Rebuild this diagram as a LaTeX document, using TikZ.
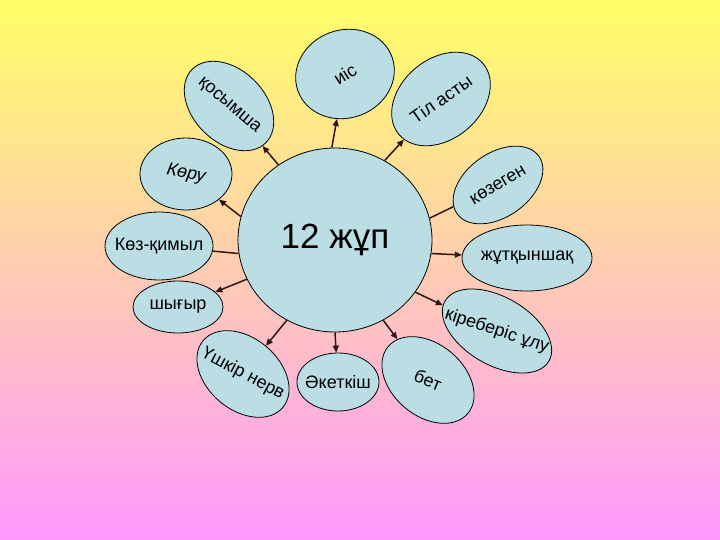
\documentclass[tikz,border=0pt]{standalone}
\usepackage{fontspec}
\setmainfont{Liberation Sans}
\usetikzlibrary{arrows.meta,shapes.geometric}
\definecolor{bgtop}{RGB}{255,255,102}
\definecolor{bgbottom}{RGB}{255,153,255}
\definecolor{leafblue}{RGB}{187,222,228}
\definecolor{stemdark}{RGB}{50,20,20}

\begin{document}
\begin{tikzpicture}[x=1pt, y=-1pt,
  core/.style={draw, line width=0.8pt, ellipse, fill=leafblue, minimum width=194pt, minimum height=184pt, font=\fontsize{35}{40}\selectfont},
  leaf/.style={draw, line width=0.8pt, ellipse, fill=leafblue, inner sep=0pt, font=\fontsize{18}{21}\selectfont},
  stem/.style={draw=stemdark, line width=1.5pt},
  arrowstem/.style={stem, -{Triangle[length=7pt,width=6pt]}}
]
\shade[top color=bgtop, bottom color=bgbottom] (0,0) rectangle (720,540);

\node[core] (core) at (335,240) {12 жұп};

\node[leaf, minimum width=104pt, minimum height=72pt, rotate=-45] (kosymsha) at (229,106) {\makebox[0pt]{\rotatebox[origin=c]{5}{қосымша}}};
\node[leaf, minimum width=100pt, minimum height=88pt, rotate=20] (iis) at (345,74) {\makebox[0pt]{\rotatebox[origin=c]{12}{иіс}}};
\node[leaf, minimum width=110pt, minimum height=80pt, rotate=40] (tilasty) at (441,99) {\makebox[0pt]{\rotatebox[origin=c]{-5}{Тіл асты}}};
\node[leaf, minimum width=92pt, minimum height=72pt] (koru) at (186,174) {\makebox[0pt]{\rotatebox[origin=c]{-10}{\itshape Көру}}};
\node[leaf, minimum width=108pt, minimum height=68pt] (kozkimyl) at (159,246) {\makebox[0pt]{Көз-қимыл}};
\node[leaf, minimum width=100pt, minimum height=64pt, rotate=35] (kozegen) at (498,185) {\makebox[0pt]{\rotatebox[origin=c]{-4}{көзеген}}};
\node[leaf, minimum width=130pt, minimum height=66pt] (zhutkynshak) at (527,258) {\makebox[0pt]{жұтқыншақ}};
\node[leaf, minimum width=90pt, minimum height=52pt] (shygyr) at (178,307) {\makebox[0pt]{шығыр}};
\node[leaf, minimum width=104pt, minimum height=72pt, rotate=-40] (ushkir) at (243,374) {\makebox[0pt]{\rotatebox[origin=c]{12}{Үшкір нерв}}};
\node[leaf, minimum width=82pt, minimum height=58pt] (aketkish) at (338,382) {\makebox[0pt]{Әкеткіш}};
\node[leaf, minimum width=104pt, minimum height=72pt, rotate=-40] (bet) at (428,380) {\makebox[0pt]{\rotatebox[origin=c]{18}{бет}}};
\node[leaf, minimum width=120pt, minimum height=68pt, rotate=-30] (kireberis) at (497,331) {\makebox[0pt]{\rotatebox[origin=c]{12}{кіреберіс ұлу}}};

\draw[arrowstem] (core.127) -- (kosymsha);
\draw[arrowstem] (core.92) -- (iis);
\draw[arrowstem] (core.58) -- (tilasty);
\draw[arrowstem] (core.166) -- (koru);
\draw[stem] (core.188) -- (kozkimyl);
\draw[stem] (core.13) -- (kozegen);
\draw[arrowstem] (core.352) -- (zhutkynshak);
\draw[arrowstem] (core.204) -- (shygyr);
\draw[arrowstem] (core.239) -- (ushkir);
\draw[arrowstem] (core.270) -- (aketkish);
\draw[arrowstem] (core.301) -- (bet);
\draw[arrowstem] (core.327) -- (kireberis);
\end{tikzpicture}
\end{document}
